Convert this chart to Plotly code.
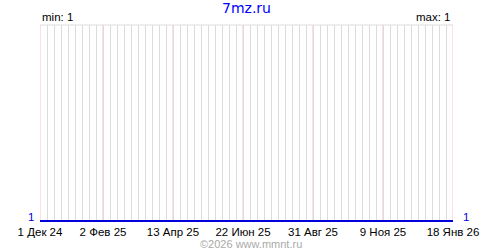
import plotly.graph_objects as go
import pandas as pd

# Data
dates = list(pd.date_range("2024-12-01", "2026-01-18", freq="7D").strftime("%Y-%m-%d"))
values = [1] * len(dates)
tick_dates = ["2024-12-01", "2025-02-02", "2025-04-13", "2025-06-22",
              "2025-08-31", "2025-11-09", "2026-01-18"]
tick_labels = ["1 Дек 24", "2 Фев 25", "13 Апр 25", "22 Июн 25",
               "31 Авг 25", "9 Ноя 25", "18 Янв 26"]
title_text = "7mz.ru"
min_val = 1
max_val = 1

FONT = "Liberation Sans"
TFONT = "DejaVu Sans"

fig = go.Figure()
fig.add_trace(go.Scatter(x=dates, y=values, mode="lines",
                         line=dict(color="#0000dd", width=2),
                         hoverinfo="skip", showlegend=False))

fig.update_layout(
    width=500, height=250,
    margin=dict(l=40, r=47, t=25, b=25),
    paper_bgcolor="white", plot_bgcolor="white",
    font=dict(family=FONT, size=11, color="black"),
    xaxis=dict(
        type="date",
        range=[dates[0], dates[-1]],
        tickvals=tick_dates, ticktext=tick_labels,
        tickangle=0,
        showgrid=False,
        ticks="", ticklen=0, ticklabelstandoff=1,
        tickfont=dict(family=FONT, size=11.5, color="black"),
        minor=dict(dtick=7 * 86400000, tick0=dates[0], showgrid=True,
                   gridcolor="#dcdcdc", gridwidth=1),
        showline=False, zeroline=False, fixedrange=True,
    ),
    yaxis=dict(range=[0.995, 2], showticklabels=False, showgrid=False,
               zeroline=False, showline=False, fixedrange=True),
    showlegend=False,
)

# pink grid lines at labelled dates
for d in tick_dates:
    fig.add_shape(type="line", xref="x", yref="paper", x0=d, x1=d, y0=0, y1=1,
                  line=dict(color="#ffc0c0", width=1), layer="below")

# top border
fig.add_shape(type="line", xref="paper", yref="paper", x0=0, x1=1, y0=1, y1=1,
              line=dict(color="#dcdcdc", width=1))

fig.add_annotation(text=title_text, xref="paper", yref="paper", x=0.5, y=1,
                   yshift=27, yanchor="top", xanchor="center", showarrow=False,
                   font=dict(family=TFONT, size=14, color="#0000ff"))
fig.add_annotation(text=f"min: {min_val}", xref="paper", yref="paper", x=0, y=1,
                   xanchor="left", yanchor="bottom", showarrow=False,
                   font=dict(family=FONT, size=11.5, color="black"))
fig.add_annotation(text=f"max: {max_val}", xref="paper", yref="paper", x=1, y=1,
                   xanchor="right", yanchor="bottom", showarrow=False,
                   font=dict(family=FONT, size=11.5, color="black"))
fig.add_annotation(text=str(values[0]), xref="paper", yref="y", x=0, y=values[0],
                   xanchor="right", yanchor="bottom", xshift=-4, yshift=-4, showarrow=False,
                   font=dict(family=FONT, size=11.5, color="#0000dd"))
fig.add_annotation(text=str(values[-1]), xref="paper", yref="y", x=1, y=values[-1],
                   xanchor="left", yanchor="bottom", xshift=8, yshift=-4, showarrow=False,
                   font=dict(family=FONT, size=11.5, color="#0000dd"))
fig.add_annotation(text="©2026 www.mmnt.ru", xref="paper", yref="paper", x=0.51, y=0,
                   xanchor="center", yanchor="top", yshift=-14, showarrow=False,
                   font=dict(family=FONT, size=11, color="#aaaaaa"))

fig.write_html("out.html", config={"displayModeBar": False})
